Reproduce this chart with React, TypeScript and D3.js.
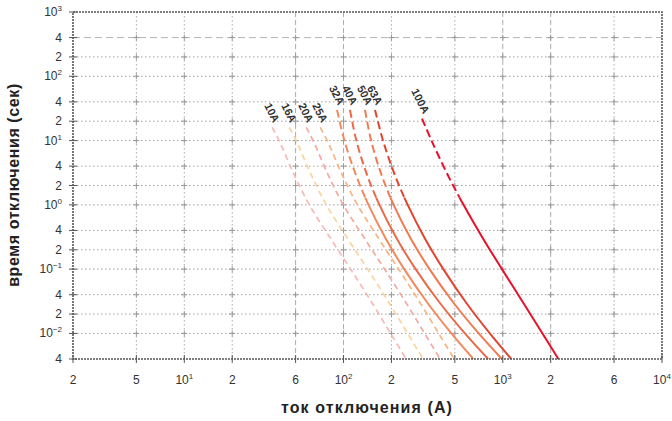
import React from "react";
import * as d3 from "d3";

const W = 672;
const H = 421;
const PLOT = { left: 73, right: 662, top: 12, bottom: 359 };

// x axis (current, A)
const X_TICKS = [2, 5, 10, 20, 50, 100, 200, 500, 1000, 2000, 5000, 10000];
const X_TICK_LABELS = ["2", "5", "10^1", "2", "6", "10^2", "2", "5", "10^3", "2", "6", "10^4"];
const X_DASHED = [50, 100, 1000, 2000];

// y axis (time, s)
const Y_TICKS = [1000, 400, 200, 100, 40, 20, 10, 4, 2, 1, 0.4, 0.2, 0.1, 0.04, 0.02, 0.01, 0.004];
const Y_TICK_LABELS = ["10^3", "4", "2", "10^2", "4", "2", "10^1", "4", "2", "10^0", "4", "2", "10^-1", "4", "2", "10^-2", "4"];
const Y_DASHED = [400];

// series
const SERIES_NAMES = ["10A", "16A", "20A", "25A", "32A", "40A", "50A", "63A", "100A"];
const SERIES_GROUP = ["low", "low", "low", "low", "mid", "mid", "mid", "mid", "high"];
const SERIES_COLORS = ["#f8b9b4", "#fbd3a0", "#f6a9a0", "#f8b483", "#f28a5e", "#ea6a48", "#f27a52", "#e2452f", "#e8102a"];

const TIMES_LOW = [16, 10, 3, 1, 0.3, 0.1, 0.03, 0.01, 0.004];
const TIMES_MID = [30, 10, 3, 1, 0.3, 0.1, 0.03, 0.01, 0.004];
const TIMES_HIGH = [22, 10, 3, 1, 0.3, 0.1, 0.03, 0.01, 0.004];

const I_10A = [35.6, 39.4, 48.8, 61, 82.9, 110.7, 150.9, 197.5, 247.3];
const I_16A = [45.6, 50.4, 62.4, 78, 106, 141.6, 193, 252.6, 316.3];
const I_20A = [58.3, 64.4, 79.7, 99.7, 135.5, 181, 246.7, 323, 404];
const I_25A = [71.4, 79, 97.7, 122.2, 166, 221.8, 302.3, 395.7, 495.5];
const I_32A = [91, 101.3, 119.1, 143.5, 184, 240.4, 336.3, 475.9, 654];
const I_40A = [109.8, 120.4, 140, 168, 215.8, 283.6, 401.8, 578.3, 810];
const I_50A = [136.4, 149, 172.6, 206.4, 264.1, 346.7, 490.5, 706.2, 988];
const I_63A = [157.6, 177, 209, 252.9, 324.3, 423.2, 589.3, 829.3, 1132];
const I_100A = [311, 357, 449, 567, 751, 989, 1344, 1776, 2236];

const SERIES_CURRENTS = [I_10A, I_16A, I_20A, I_25A, I_32A, I_40A, I_50A, I_63A, I_100A];

const X_TITLE = "ток отключения (А)";
const Y_TITLE = "время отключения (сек)";

function TickText({ s, small }: { s: string; small: number }) {
  if (s.startsWith("10^")) {
    const e = s.slice(3);
    return (
      <>
        10
        <tspan dy={-5} fontSize={small}>
          {e.replace("-", "−")}
        </tspan>
      </>
    );
  }
  return <>{s}</>;
}

export default function App() {
  const x = d3.scaleLog().domain([2, 10000]).range([PLOT.left, PLOT.right]);
  const y = d3.scaleLog().domain([0.004, 1000]).range([PLOT.bottom, PLOT.top]);

  const series = SERIES_NAMES.map((name, i) => {
    const g = SERIES_GROUP[i];
    const times = g === "low" ? TIMES_LOW : g === "mid" ? TIMES_MID : TIMES_HIGH;
    const pts = SERIES_CURRENTS[i].map((c, k) => [c, times[k]] as [number, number]);
    return { name, group: g, color: SERIES_COLORS[i], pts };
  });

  const line = d3
    .line<[number, number]>()
    .x((d) => x(d[0]))
    .y((d) => y(d[1]))
    .curve(d3.curveCatmullRom.alpha(0.5));

  const splitY = y(1.3);
  const tickFont = "'Liberation Sans', Arial, sans-serif";

  return (
    <svg
      width={W}
      height={H}
      viewBox={`0 0 ${W} ${H}`}
      style={{ position: "fixed", left: 0, top: 0, background: "#fff", display: "block" }}
    >
      <defs>
        <clipPath id="clipTop">
          <rect x={PLOT.left} y={0} width={PLOT.right - PLOT.left} height={splitY} />
        </clipPath>
        <clipPath id="clipBottom">
          <rect x={PLOT.left} y={splitY} width={PLOT.right - PLOT.left} height={PLOT.bottom - splitY + 2} />
        </clipPath>
      </defs>
      <rect x={0} y={0} width={W} height={H} fill="#fff" />

      {/* horizontal grid */}
      {Y_TICKS.slice(1, -1).map((t) => (
        <line
          key={"hy" + t}
          x1={PLOT.left}
          x2={PLOT.right}
          y1={y(t)}
          y2={y(t)}
          stroke={Y_DASHED.includes(t) ? "#b4b4b4" : "#a0a0a0"}
          strokeWidth={1}
          strokeDasharray={Y_DASHED.includes(t) ? "7,4" : "1.5,2.5"}
        />
      ))}
      {/* vertical grid */}
      {X_TICKS.slice(1, -1).map((v) => (
        <line
          key={"vx" + v}
          x1={x(v)}
          x2={x(v)}
          y1={PLOT.top}
          y2={PLOT.bottom}
          stroke="#ababab"
          strokeWidth={1}
          strokeDasharray={X_DASHED.includes(v) ? "5,3" : "1.5,2.5"}
        />
      ))}
      {/* crosses at grid intersections */}
      {X_TICKS.slice(1, -1).map((v) =>
        Y_TICKS.slice(1, -1).map((t) => (
          <g key={"c" + v + "_" + t} stroke="#9a9a9a" strokeWidth={1}>
            <line x1={x(v) - 3} x2={x(v) + 3} y1={y(t)} y2={y(t)} />
            <line x1={x(v)} x2={x(v)} y1={y(t) - 3} y2={y(t) + 3} />
          </g>
        ))
      )}

      {/* curves */}
      {series.map((s) => {
        const d = line(s.pts) || "";
        const w = s.group === "low" ? 1.7 : 2;
        if (s.group === "low") {
          return (
            <path key={s.name} d={d} fill="none" stroke={s.color} strokeWidth={w} strokeDasharray="6,4" />
          );
        }
        return (
          <g key={s.name}>
            <path d={d} fill="none" stroke={s.color} strokeWidth={w} strokeDasharray="8,4" clipPath="url(#clipTop)" />
            <path d={d} fill="none" stroke={s.color} strokeWidth={w} clipPath="url(#clipBottom)" />
          </g>
        );
      })}

      {/* curve labels */}
      {series.map((s) => {
        const p = s.pts[0];
        const px = x(p[0]) + 1;
        const py = y(p[1]) - 4;
        return (
          <text
            key={"l" + s.name}
            x={px}
            y={py}
            transform={`rotate(63 ${px} ${py})`}
            textAnchor="end"
            fontFamily={tickFont}
            fontSize={11}
            fontWeight="bold"
            fill="#333"
          >
            {s.name}
          </text>
        );
      })}

      {/* frame */}
      <rect
        x={PLOT.left}
        y={PLOT.top}
        width={PLOT.right - PLOT.left}
        height={PLOT.bottom - PLOT.top}
        fill="none"
        stroke="#555"
        strokeWidth={1.6}
        strokeDasharray="2,1"
      />

      {/* y ticks */}
      {Y_TICKS.map((t, i) => (
        <g key={"yt" + t}>
          <line x1={PLOT.left - 4} x2={PLOT.left + 4} y1={y(t)} y2={y(t)} stroke="#555" strokeWidth={1} />
          <text
            x={62}
            y={y(t) + 4}
            textAnchor="end"
            fontFamily={tickFont}
            fontSize={12}
            fill="#333"
          >
            <TickText s={Y_TICK_LABELS[i]} small={8} />
          </text>
        </g>
      ))}

      {/* x ticks */}
      {X_TICKS.map((v, i) => (
        <g key={"xt" + v}>
          <line x1={x(v)} x2={x(v)} y1={PLOT.bottom - 4} y2={PLOT.bottom + 4} stroke="#555" strokeWidth={1} />
          <text
            x={x(v)}
            y={384}
            textAnchor="middle"
            fontFamily={tickFont}
            fontSize={12}
            fill="#333"
          >
            <TickText s={X_TICK_LABELS[i]} small={8} />
          </text>
        </g>
      ))}

      {/* axis titles */}
      <text
        x={367}
        y={413}
        textAnchor="middle"
        fontFamily={tickFont}
        fontWeight="bold"
        fontSize={16}
        letterSpacing={1.1}
        fill="#222"
      >
        {X_TITLE}
      </text>
      <text
        x={0}
        y={0}
        transform={`translate(19 185) rotate(-90)`}
        textAnchor="middle"
        fontFamily={tickFont}
        fontWeight="bold"
        fontSize={16}
        letterSpacing={0.6}
        fill="#222"
      >
        {Y_TITLE}
      </text>
    </svg>
  );
}
